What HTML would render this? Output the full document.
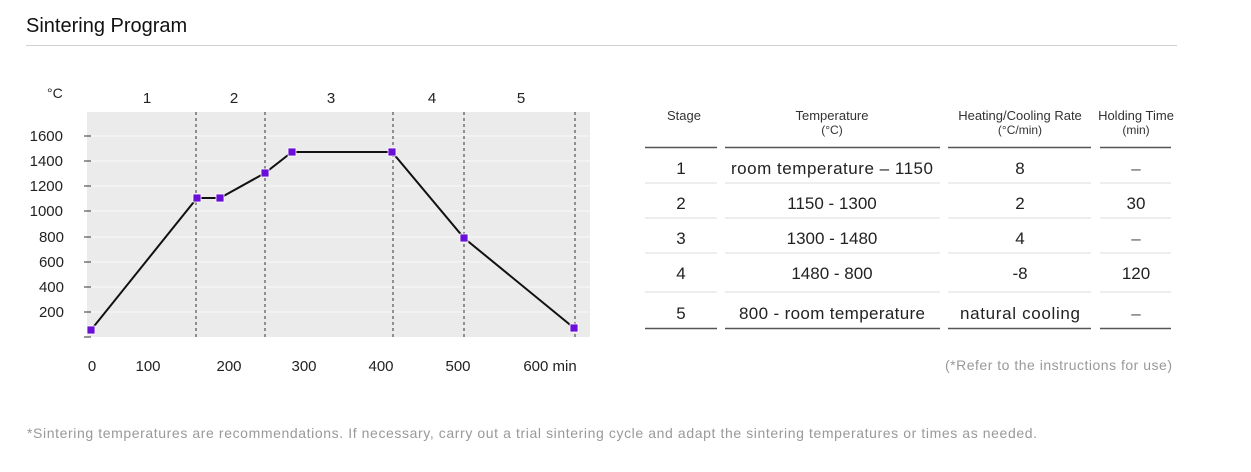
<!DOCTYPE html>
<html><head><meta charset="utf-8"><style>
body{margin:0;width:1251px;height:467px;background:#fff;font-family:"Liberation Sans",sans-serif;overflow:hidden}
</style></head><body>
<svg width="1251" height="467" xmlns="http://www.w3.org/2000/svg" font-family="Liberation Sans, sans-serif">
<text x="26" y="32" font-size="20" fill="#111">Sintering Program</text>
<line x1="26" y1="45.5" x2="1177" y2="45.5" stroke="#d0d0d0" stroke-width="1"/>
<!-- chart -->
<rect x="87" y="112" width="503" height="225" fill="#ebebeb"/>
<g stroke="#fafafa" stroke-width="1">
<line x1="87" x2="590" y1="136" y2="136"/><line x1="87" x2="590" y1="161" y2="161"/>
<line x1="87" x2="590" y1="186" y2="186"/><line x1="87" x2="590" y1="211" y2="211"/>
<line x1="87" x2="590" y1="237" y2="237"/><line x1="87" x2="590" y1="262" y2="262"/>
<line x1="87" x2="590" y1="287" y2="287"/><line x1="87" x2="590" y1="312" y2="312"/>
</g>
<g stroke="#333" stroke-width="1">
<line x1="84" x2="91" y1="136" y2="136"/><line x1="84" x2="91" y1="161" y2="161"/>
<line x1="84" x2="91" y1="186" y2="186"/><line x1="84" x2="91" y1="211" y2="211"/>
<line x1="84" x2="91" y1="237" y2="237"/><line x1="84" x2="91" y1="262" y2="262"/>
<line x1="84" x2="91" y1="287" y2="287"/><line x1="84" x2="91" y1="312" y2="312"/>
<line x1="84" x2="91" y1="337" y2="337"/>
</g>
<g stroke="#333" stroke-width="1" stroke-dasharray="3,3">
<line x1="196" x2="196" y1="112" y2="338"/><line x1="265" x2="265" y1="112" y2="338"/>
<line x1="393" x2="393" y1="112" y2="338"/><line x1="464" x2="464" y1="112" y2="338"/>
<line x1="575" x2="575" y1="112" y2="338"/>
</g>
<g font-size="15" fill="#222" text-anchor="end">
<text x="63" y="141">1600</text><text x="63" y="166">1400</text><text x="63" y="191">1200</text>
<text x="63" y="216">1000</text><text x="64" y="242">800</text><text x="64" y="267">600</text>
<text x="64" y="292">400</text><text x="64" y="317">200</text>
</g>
<text x="47" y="98" font-size="14" fill="#222">°C</text>
<g font-size="15" fill="#222" text-anchor="middle">
<text x="147" y="103">1</text><text x="234" y="103">2</text><text x="331" y="103">3</text>
<text x="432" y="103">4</text><text x="521" y="103">5</text>
<text x="92" y="371">0</text><text x="148" y="371">100</text><text x="229" y="371">200</text>
<text x="304" y="371">300</text><text x="381" y="371">400</text><text x="458" y="371">500</text>
<text x="550" y="371">600 min</text>
</g>
<polyline points="91,330 197,198 220,198 265,173 292,152 392,152 464,238 574,328" fill="none" stroke="#111" stroke-width="2"/>
<g fill="#6a0fd8" stroke="#fff" stroke-width="0.8">
<rect x="87" y="326" width="8" height="8"/><rect x="193" y="194" width="8" height="8"/>
<rect x="216" y="194" width="8" height="8"/><rect x="261" y="169" width="8" height="8"/>
<rect x="288" y="148" width="8" height="8"/><rect x="388" y="148" width="8" height="8"/>
<rect x="460" y="234" width="8" height="8"/><rect x="570" y="324" width="8" height="8"/>
</g>
<!-- table -->
<g font-size="13" fill="#333" text-anchor="middle">
<text x="684" y="120">Stage</text>
<text x="832" y="120">Temperature</text><text x="832" y="134" font-size="12">(°C)</text>
<text x="1020" y="120">Heating/Cooling Rate</text><text x="1020" y="134" font-size="12">(°C/min)</text>
<text x="1136" y="120">Holding Time</text><text x="1136" y="134" font-size="12">(min)</text>
</g>
<g stroke="#555" stroke-width="1.5">
<line x1="645" x2="717" y1="147.5" y2="147.5"/><line x1="725" x2="940" y1="147.5" y2="147.5"/>
<line x1="948" x2="1091" y1="147.5" y2="147.5"/><line x1="1100" x2="1171" y1="147.5" y2="147.5"/>
<line x1="645" x2="717" y1="328.5" y2="328.5"/><line x1="725" x2="940" y1="328.5" y2="328.5"/>
<line x1="948" x2="1091" y1="328.5" y2="328.5"/><line x1="1100" x2="1171" y1="328.5" y2="328.5"/>
</g>
<g stroke="#ddd" stroke-width="1">
<line x1="645" x2="717" y1="183" y2="183"/><line x1="725" x2="940" y1="183" y2="183"/><line x1="948" x2="1091" y1="183" y2="183"/><line x1="1100" x2="1171" y1="183" y2="183"/>
<line x1="645" x2="717" y1="218" y2="218"/><line x1="725" x2="940" y1="218" y2="218"/><line x1="948" x2="1091" y1="218" y2="218"/><line x1="1100" x2="1171" y1="218" y2="218"/>
<line x1="645" x2="717" y1="253" y2="253"/><line x1="725" x2="940" y1="253" y2="253"/><line x1="948" x2="1091" y1="253" y2="253"/><line x1="1100" x2="1171" y1="253" y2="253"/>
<line x1="645" x2="717" y1="292" y2="292"/><line x1="725" x2="940" y1="292" y2="292"/><line x1="948" x2="1091" y1="292" y2="292"/><line x1="1100" x2="1171" y1="292" y2="292"/>
</g>
<g font-size="17" fill="#222" text-anchor="middle">
<text x="681" y="174">1</text><text x="832" y="174" textLength="202" lengthAdjust="spacing">room temperature – 1150</text><text x="1020" y="174">8</text><text x="1136" y="174" fill="#555">–</text>
<text x="681" y="209">2</text><text x="832" y="209">1150 - 1300</text><text x="1020" y="209">2</text><text x="1136" y="209">30</text>
<text x="681" y="244">3</text><text x="832" y="244">1300 - 1480</text><text x="1020" y="244">4</text><text x="1136" y="244" fill="#555">–</text>
<text x="681" y="279">4</text><text x="832" y="279">1480 - 800</text><text x="1020" y="279">-8</text><text x="1136" y="279">120</text>
<text x="681" y="319">5</text><text x="832" y="319" textLength="186" lengthAdjust="spacing">800 - room temperature</text><text x="1020" y="319" textLength="120" lengthAdjust="spacing">natural cooling</text><text x="1136" y="319" fill="#555">–</text>
</g>
<text x="945" y="370" font-size="14" fill="#999" textLength="227" lengthAdjust="spacing">(*Refer to the instructions for use)</text>
<text x="27" y="438" font-size="14" fill="#999" textLength="1010" lengthAdjust="spacing">*Sintering temperatures are recommendations. If necessary, carry out a trial sintering cycle and adapt the sintering temperatures or times as needed.</text>
</svg>
</body></html>
